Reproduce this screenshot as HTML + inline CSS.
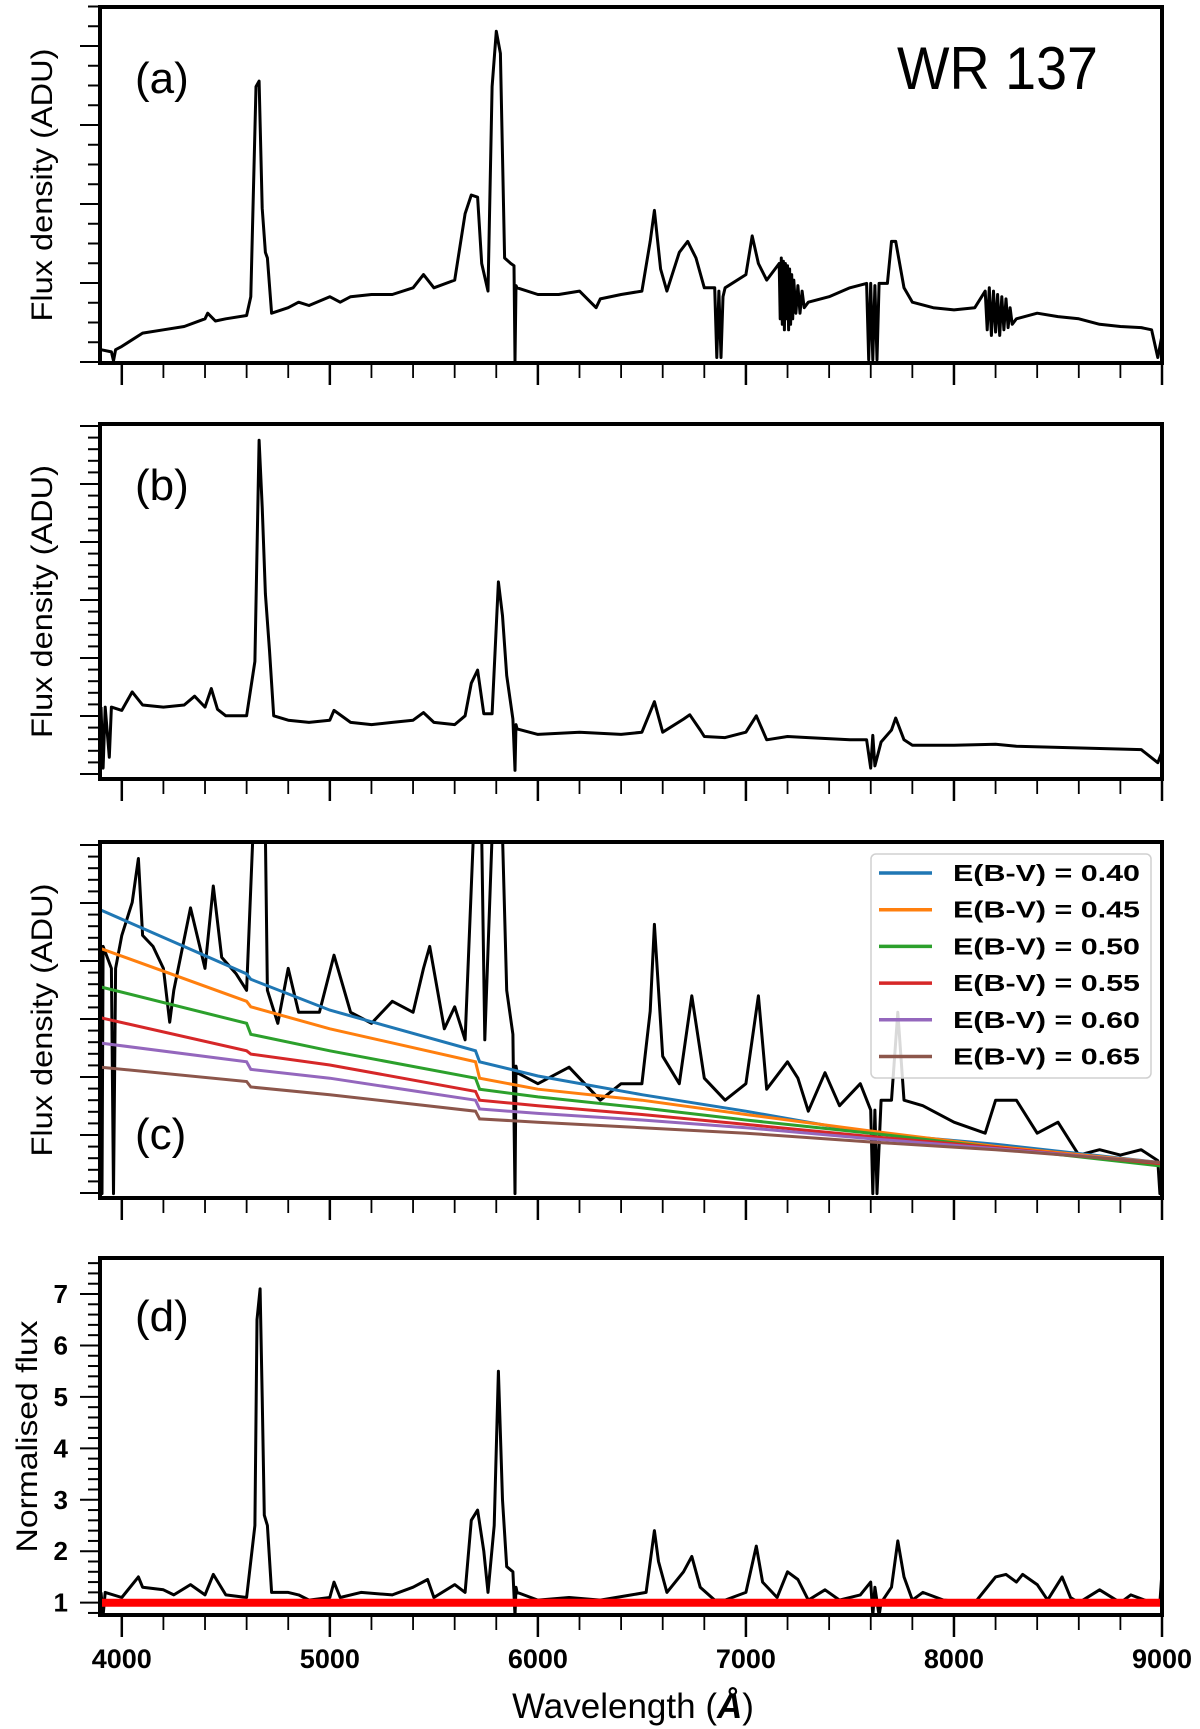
<!DOCTYPE html>
<html><head><meta charset="utf-8"><style>
html,body{margin:0;padding:0;background:#fff;}
svg{display:block;}
text{font-family:"Liberation Sans","DejaVu Sans",sans-serif;}
</style></head><body>
<svg id="fig" width="1200" height="1729" viewBox="0 0 1200 1729" xmlns="http://www.w3.org/2000/svg"></svg>
<script>
// ---------- DATA ----------
const xTickLabels = [4000, 5000, 6000, 7000, 8000, 9000];
const dTickLabels = [1, 2, 3, 4, 5, 6, 7];

const aWave = [3900,3950,3960,3970,4000,4100,4200,4300,4400,4413,4450,4500,4600,4620,4645,4660,4675,4690,4700,4720,4800,4850,4900,5000,5050,5100,5200,5300,5400,5450,5500,5600,5650,5680,5710,5730,5760,5780,5800,5820,5840,5870,5885,5890,5895,5900,6000,6100,6200,6280,6300,6400,6500,6540,6560,6590,6620,6680,6720,6760,6800,6850,6860,6870,6880,6890,6900,7000,7030,7060,7100,7160,7165,7170,7175,7180,7185,7190,7195,7200,7205,7210,7215,7220,7225,7230,7240,7250,7260,7270,7280,7300,7400,7500,7580,7590,7600,7610,7620,7630,7640,7680,7700,7720,7760,7800,7900,8000,8100,8150,8160,8170,8180,8190,8200,8210,8220,8230,8240,8250,8260,8270,8280,8300,8400,8500,8600,8700,8800,8900,8950,8980,9000];
const aFlux = [12,10,2,12,15,27,30,33,40,45,38,40,43,60,250,255,140,100,95,45,50,55,52,60,55,60,62,62,68,80,68,75,135,152,150,90,65,250,300,280,95,90,88,2,70,68,62,62,65,50,58,62,65,110,138,85,65,100,110,95,68,68,5,65,5,60,68,80,115,90,75,90,40,95,35,92,30,90,40,88,30,85,35,80,40,75,45,70,45,65,50,55,60,68,72,3,72,3,70,3,72,72,110,110,68,55,50,48,50,65,30,68,25,65,28,62,25,60,30,58,32,50,35,40,45,42,40,35,33,32,30,5,25];

const bWave = [3900,3910,3920,3940,3950,4000,4050,4100,4200,4300,4350,4400,4430,4460,4500,4600,4640,4660,4675,4690,4710,4730,4800,4900,5000,5020,5100,5200,5300,5400,5450,5500,5600,5650,5680,5710,5740,5780,5810,5830,5850,5880,5890,5895,5900,6000,6200,6400,6500,6560,6600,6700,6730,6780,6800,6900,7000,7050,7100,7200,7300,7500,7580,7600,7610,7620,7650,7700,7720,7760,7800,8000,8200,8300,8500,8700,8900,8980,9000];
const bFlux = [66,10,66,20,66,63,80,68,66,68,76,66,83,64,58,58,108,311,250,170,118,58,54,52,54,63,52,50,52,54,61,52,50,58,88,100,60,60,181,150,95,55,8,50,46,41,43,41,43,71,43,55,59,45,39,38,43,58,36,39,38,36,36,10,40,12,34,45,56,36,31,31,32,30,29,28,27,15,25];

const cWave = [3900,3905,3910,3950,3960,3970,4000,4050,4080,4100,4150,4200,4230,4250,4330,4400,4440,4480,4550,4600,4630,4690,4700,4750,4800,4850,4950,5020,5100,5200,5300,5400,5450,5480,5550,5600,5650,5690,5730,5745,5780,5830,5850,5880,5890,5895,5900,6000,6150,6300,6400,6500,6540,6560,6600,6680,6740,6800,6900,7000,7060,7100,7200,7250,7300,7380,7450,7550,7600,7610,7620,7630,7650,7700,7730,7760,7850,8000,8150,8200,8300,8400,8500,8600,8700,8800,8900,8980,8990,9000];
const cFlux = [229,4,229,209,4,209,239,269,309,239,229,209,160,189,264,209,284,219,204,189,330,330,189,159,209,169,169,221,169,159,179,169,209,229,154,174,144,330,330,144,330,330,189,149,4,120,114,104,119,89,104,104,170,249,129,104,184,109,89,104,184,99,124,109,79,114,84,104,80,4,80,4,89,89,169,89,84,69,59,89,89,59,69,39,44,39,44,34,4,30];

const curveWave = [3900,4600,4620,5000,5700,5720,6000,6500,7000,7600,8200,9000];
const ebvLabels = ["E(B-V) = 0.40","E(B-V) = 0.45","E(B-V) = 0.50","E(B-V) = 0.55","E(B-V) = 0.60","E(B-V) = 0.65"];
const ebv040 = [262,204,199,171,134,124,111,94,79,59,49,32];
const ebv045 = [227,179,174,154,124,109,99,89,76,61,47,32];
const ebv050 = [192,159,149,134,109,99,92,82,71,59,46,29];
const ebv055 = [164,134,131,121,97,89,84,76,67,56,46,31];
const ebv060 = [141,124,117,109,89,81,77,71,64,54,45,32];
const ebv065 = [119,106,101,94,79,72,69,64,59,51,44,32];

const dWave = [3900,3910,3920,4000,4080,4100,4200,4250,4330,4400,4440,4500,4600,4640,4650,4665,4675,4685,4700,4720,4800,4850,4900,5000,5020,5050,5150,5300,5400,5470,5500,5600,5650,5680,5710,5740,5760,5790,5810,5830,5850,5880,5890,5895,5900,6000,6150,6300,6450,6520,6560,6580,6620,6700,6740,6780,6850,6900,7000,7050,7080,7150,7200,7250,7300,7380,7450,7550,7600,7610,7620,7640,7650,7700,7730,7760,7800,7850,7950,8100,8200,8250,8300,8330,8400,8450,8520,8560,8600,8700,8800,8850,8950,8990,9000];
const dFlux = [1.2,0.75,1.2,1.1,1.5,1.3,1.25,1.15,1.35,1.15,1.55,1.15,1.1,2.5,6.5,7.1,5.0,2.7,2.5,1.2,1.2,1.15,1.05,1.1,1.4,1.1,1.2,1.15,1.3,1.45,1.1,1.35,1.2,2.6,2.8,2.0,1.2,2.5,5.5,3.0,1.7,1.6,0.75,1.3,1.2,1.05,1.1,1.05,1.15,1.2,2.4,1.8,1.2,1.6,1.9,1.3,1.05,1.05,1.2,2.1,1.4,1.1,1.6,1.45,1.05,1.25,1.05,1.15,1.4,0.75,1.3,0.75,1.0,1.3,2.2,1.5,1.05,1.2,1.05,1.0,1.5,1.55,1.4,1.55,1.35,1.05,1.5,1.1,1.0,1.25,1.0,1.15,1.0,1.0,1.6];
const dContinuum = [1, 1];
const dContWave = [3900, 9000];

// ---------- LAYOUT ----------
const NS = "http://www.w3.org/2000/svg";
const svg = document.getElementById('fig');
const X0 = 100, X1 = 1162;
const panels = [
  {key:'a', top:7,   bottom:363,  dom:[0,322]},
  {key:'b', top:424, bottom:779,  dom:[0,326]},
  {key:'c', top:842, bottom:1198, dom:[0,324]},
  {key:'d', top:1258,bottom:1615, dom:[0.76,7.7]}
];
function xs(w){ return 101 + (w-3900)/(9000-3900)*(1162-101); }
function ysFor(p){ return v => p.bottom - (v-p.dom[0])/(p.dom[1]-p.dom[0])*(p.bottom-p.top); }
function mk(tag, attrs, parent){
  const e = document.createElementNS(NS, tag);
  for (const k in attrs) e.setAttribute(k, attrs[k]);
  (parent||svg).appendChild(e);
  return e;
}
function polyPts(ws, vs, ys){ return ws.map((w,i)=>xs(w).toFixed(1)+','+ys(vs[i]).toFixed(1)).join(' '); }

const colors = ['#1f77b4','#ff7f0e','#2ca02c','#d62728','#9467bd','#8c564b'];
const curves = [ebv040, ebv045, ebv050, ebv055, ebv060, ebv065];

panels.forEach(p=>{
  const g = mk('g',{});
  
  
  const ys = ysFor(p);
  const cp = mk('clipPath',{id:'clip-'+p.key}, g);
  mk('rect',{x:X0,y:p.top,width:X1-X0,height:p.bottom-p.top}, cp);
  const plot = mk('g',{'clip-path':'url(#clip-'+p.key+')'}, g);

  let ws, vs;
  if (p.key==='a'){ws=aWave;vs=aFlux;}
  else if (p.key==='b'){ws=bWave;vs=bFlux;}
  else if (p.key==='c'){ws=cWave;vs=cFlux;}
  else {ws=dWave;vs=dFlux;}
  const sp = mk('polyline',{points:polyPts(ws,vs,ys),fill:'none',stroke:'#000','stroke-width':3,'stroke-linejoin':'round'}, plot);
  
  
  if (p.key==='d'){
    const red = mk('polyline',{points:polyPts(dContWave,dContinuum,ys),fill:'none',stroke:'#ff0000','stroke-width':8}, plot);
    
    
  }

  if (p.key==='c'){
    curves.forEach((cv,i)=>{
      const l = mk('polyline',{points:polyPts(curveWave,cv,ys),fill:'none',stroke:colors[i],'stroke-width':3}, plot);
      
      
    });
  }

  const fr = mk('rect',{x:X0,y:p.top,width:X1-X0,height:p.bottom-p.top,fill:'none',stroke:'#000','stroke-width':4}, g);
  
  

  for (let w=4000; w<=9000; w+=200){
    const major = (w%1000===0);
    mk('line',{x1:xs(w),x2:xs(w),y1:p.bottom,y2:p.bottom+(major?22:15),stroke:'#000','stroke-width':major?2.5:1.8}, g);
  }
  if (p.key==='d'){
    for (let v=0.8; v<=7.61; v+=0.2){
      const major = Math.abs(v-Math.round(v))<0.01;
      const y = ys(v);
      mk('line',{x1:X0-(major?20:12),x2:X0,y1:y,y2:y,stroke:'#000','stroke-width':2}, g);
    }
    dTickLabels.forEach(v=>{
      const t = mk('text',{x:68,y:ys(v)+9,'text-anchor':'end','font-size':26,'font-weight':'bold'}, g);
      t.textContent = v;
      
      
    });
  } else {
    const step = p.key==='a'?79:58, sub = p.key==='a'?4:5;
    const base = p.key==='a'?p.bottom-1:p.bottom-5;
    for (let k=0; base-k*step/sub>=p.top-1; k++){
      const y = base - k*step/sub;
      const major = k%sub===0;
      mk('line',{x1:X0-(major?20:12),x2:X0,y1:y,y2:y,stroke:'#000','stroke-width':2}, g);
    }
  }

  const cy = (p.top+p.bottom)/2;
  const lx = p.key==='d'?37:52;
  const yl = mk('text',{x:lx,y:cy,'text-anchor':'middle','font-size':30,transform:'rotate(-90 '+lx+' '+cy+')',textLength:p.key==='d'?232:273,lengthAdjust:'spacingAndGlyphs'}, g);
  yl.textContent = p.key==='d'?'Normalised flux':'Flux density (ADU)';
  
  

  const ly = {a:93,b:500,c:1149,d:1331}[p.key];
  const pl = mk('text',{x:135,y:ly,'font-size':44}, g);
  pl.textContent = '('+p.key+')';
  
  
});

const ttl = mk('text',{x:897,y:89,'font-size':60,textLength:201,lengthAdjust:'spacingAndGlyphs'});
ttl.textContent = 'WR 137';



xTickLabels.forEach(w=>{
  const t = mk('text',{x:xs(w),y:1668,'text-anchor':'middle','font-size':27,'font-weight':'bold'});
  t.textContent = w;
  
  
});
const xt = mk('text',{x:633,y:1718,'text-anchor':'middle','font-size':35});


xt.appendChild(document.createTextNode('Wavelength ('));
const ts = mk('tspan',{'font-weight':'bold','font-style':'italic'}, xt);
ts.textContent = 'Å';
xt.appendChild(document.createTextNode(')'));

const lg = mk('g',{});


mk('rect',{x:871,y:854,width:280,height:224,rx:5,fill:'#fff','fill-opacity':0.85,stroke:'#d0d0d0','stroke-width':1.5}, lg);
ebvLabels.forEach((lab,i)=>{
  const y = 873 + i*36.7;
  const ln = mk('line',{x1:879,x2:932,y1:y,y2:y,stroke:colors[i],'stroke-width':3.5}, lg);
  
  
  const t = mk('text',{x:953,y:y+8,'font-size':23,'font-weight':'bold',textLength:187,lengthAdjust:'spacingAndGlyphs'}, lg);
  t.textContent = lab;
  
  
});
</script>
</body></html>
